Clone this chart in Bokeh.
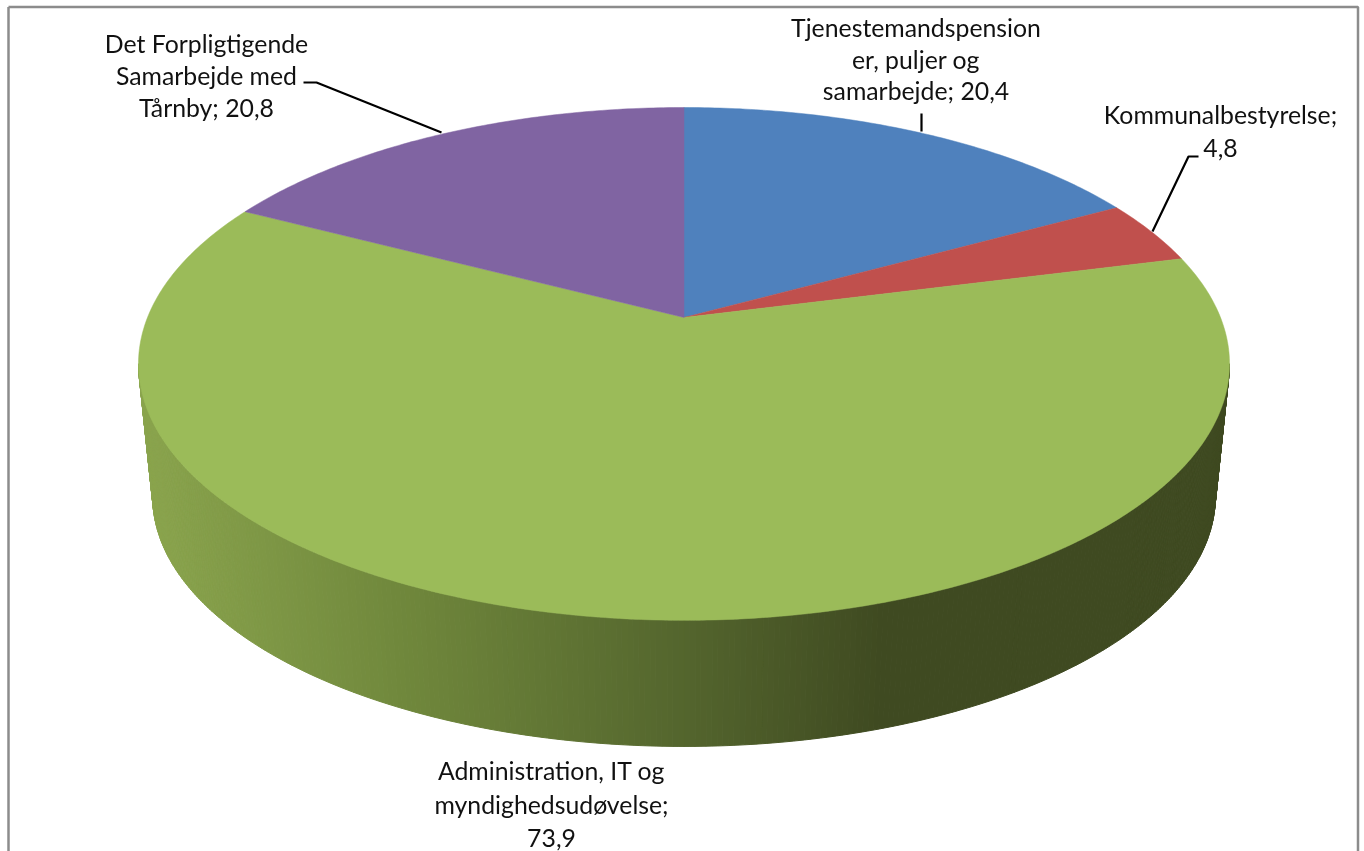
import numpy as np
from bokeh.plotting import figure
from bokeh.embed import file_html
from bokeh.resources import INLINE
from bokeh.core.properties import value

# Data
categories = ["Tjenestemandspensioner, puljer og samarbejde", "Kommunalbestyrelse",
              "Administration, IT og myndighedsudøvelse", "Det Forpligtigende Samarbejde med Tårnby"]
values = [20.4, 4.8, 73.9, 20.8]
value_labels = ["20,4", "4,8", "73,9", "20,8"]
colors = ["#4F81BD", "#C0504D", "#9BBB59", "#8064A2"]
label_lines = [
    ["Tjenestemandspension", "er, puljer og", "samarbejde; 20,4"],
    ["Kommunalbestyrelse;", "4,8"],
    ["Administration, IT og", "myndighedsudøvelse;", "73,9"],
    ["Det Forpligtigende", "Samarbejde med", "Tårnby; 20,8"],
]
label_centers = [(915.5, 27), (1220, 114), (551, 770), (206, 43)]
label_pitch = [31.5, 33, 33.5, 32]
leaders_x = [[921, 921], [1198, 1188, 1152], [], [303, 316, 441]]
leaders_y = [[113, 131], [156, 156, 231], [], [82, 82, 132]]

W, H = 1364, 851
p = figure(width=W, height=H, x_range=(0, W), y_range=(H, 0), output_backend="svg",
           toolbar_location=None, min_border=0, outline_line_color=None,
           background_fill_color="white", border_fill_color="white")
p.axis.visible = False
p.grid.visible = False
p.styles = {"position": "fixed", "left": "0px", "top": "0px"}

# Perspective disc
CX, K = 683.5, 0.181
def project(theta, y0=317.0, scale=1.0):
    d = 1 + K * np.cos(theta)
    return CX + scale * 536.5 * np.sin(theta) / d, y0 - scale * 248 * np.cos(theta) / d

# Frame
p.line([8, 8], [6.5, H], line_color="#8C8C8C", line_width=2.5)
p.line([8, 1357.5, 1357.5], [6.5, 6.5, H], line_color="#8C8C8C", line_width=2.5)

# Side wall (shaded strips)
stops_x = [140, 400, 670, 880, 1230]
stops_c = np.array([[0x8B, 0xA5, 0x4E], [0x70, 0x88, 0x3C], [0x55, 0x67, 0x2E], [0x3F, 0x4A, 0x21], [0x3F, 0x4A, 0x21]], float)
edges = np.radians(np.linspace(100.4, 259.6, 321))
xs, ys, cs = [], [], []
for a, b in zip(edges[:-1], edges[1:]):
    xa, ya = project(a); xb, yb = project(b)
    xa2, ya2 = project(a, 451, .974); xb2, yb2 = project(b, 451, .974)
    xs.append([xa, xb, xb2, xa2]); ys.append([ya, yb, yb2, ya2])
    xm = (xa + xb + xa2 + xb2) / 4
    rgb = [int(round(np.interp(xm, stops_x, stops_c[:, i]))) for i in range(3)]
    cs.append("#%02x%02x%02x" % tuple(rgb))
p.patches(xs, ys, fill_color=cs, line_color=cs, line_width=1)

# Top face
cum = np.cumsum([0] + values) / sum(values) * 2 * np.pi
for i, col in enumerate(colors):
    t = np.linspace(cum[i], cum[i + 1], max(3, int((cum[i + 1] - cum[i]) * 90)))
    x, y = project(t)
    p.patch(np.r_[CX, x], np.r_[317.0, y], fill_color=col, line_color=col, line_width=0.5)

# Leaders
for lx, ly in zip(leaders_x, leaders_y):
    if lx:
        p.line(lx, ly, line_color="black", line_width=2.2)

# Labels
tx, ty, tt = [], [], []
for lines, (cx, cy), lh in zip(label_lines, label_centers, label_pitch):
    for j, s in enumerate(lines):
        tx.append(cx); ty.append(cy + j * lh); tt.append(s)
p.text(tx, ty, text=tt, text_font=value("Lato"), text_font_size="24.8px", text_color="#111111",
       text_align="center", text_baseline="middle")

open("out.html", "w").write(file_html(p, INLINE))
